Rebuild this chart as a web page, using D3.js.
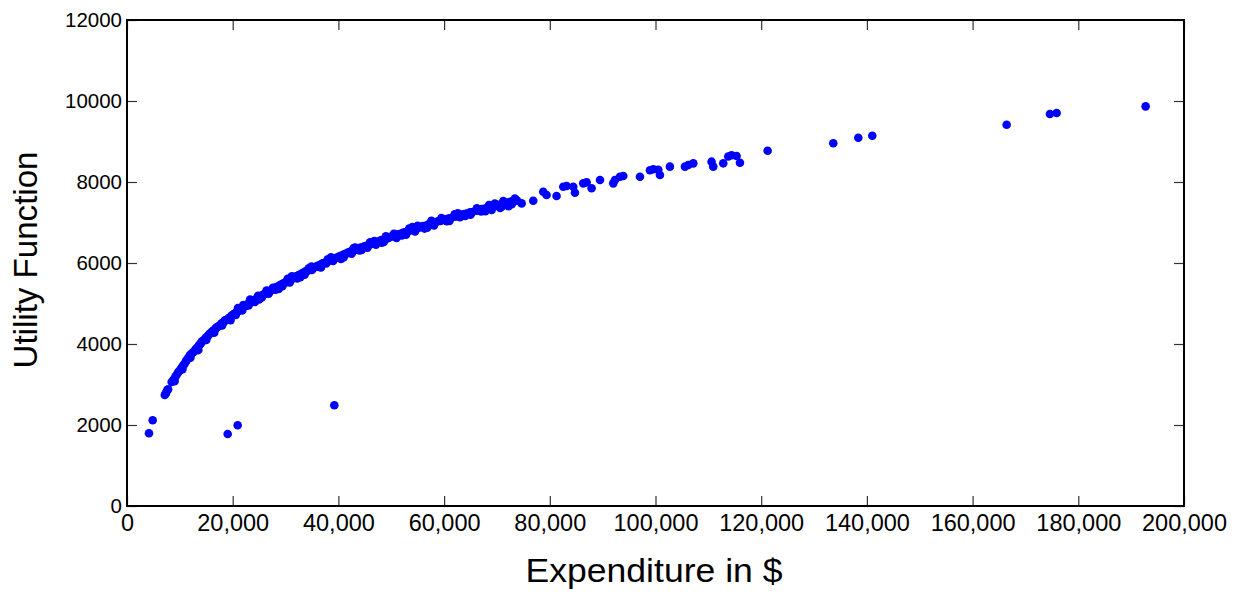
<!DOCTYPE html>
<html>
<head>
<meta charset="utf-8">
<script src="https://cdn.jsdelivr.net/npm/d3@7"></script>
<style>
  html, body { margin: 0; padding: 0; background: #fff; }
  svg { display: block; }
  text { font-family: "Liberation Sans", Arial, Helvetica, sans-serif; fill: #000; }
</style>
</head>
<body>
<svg id="chart" width="1244" height="594"></svg>
<script>
// ---- Data ----
const xTicks = [0, 20000, 40000, 60000, 80000, 100000, 120000, 140000, 160000, 180000, 200000];
const yTicks = [0, 2000, 4000, 6000, 8000, 10000, 12000];
const xLabel = "Expenditure in $";
const yLabel = "Utility Function";

const expenditure = [
  4160, 4860, 19050, 20940, 39230,
  7150, 7300, 7420, 7600, 7780, 8450, 8700, 8950, 9200, 9500, 9700, 9950,
  10200, 10450, 10700, 10900, 11150, 11300, 11500, 11750, 11900, 12100, 12300, 12550, 12800, 13000, 13200, 13400, 13600, 13800, 14000, 14150, 14400, 14600, 14850, 15100,
  15300, 15500, 15700, 15900, 16100, 16350, 16600, 16800, 17000, 17300, 17500, 17800, 18000, 18300, 18500, 18700, 19000, 19300, 19500, 19800, 20000,
  20200, 20500, 20700, 20900, 21200, 21400, 21700, 21900, 22200, 22400, 22700, 22900, 23100, 23400, 23600, 23900, 24100, 24400, 24600, 24900, 25200, 25400, 25700, 25900, 26200, 26500, 26700, 27000, 27300, 27500, 27800, 28000, 28300, 28500, 28800, 29100, 29300, 29600, 29900,
  30200, 30500, 30700, 31000, 31300, 31600, 31800, 32100, 32400, 32600, 32900, 33200, 33500, 33700, 34000, 34300, 34600, 34800, 35100, 35400, 35700, 35900, 36200, 36500, 36800, 37000, 37300, 37600, 37900, 38200, 38500, 38800, 39100, 39400, 39700, 40000,
  20600, 21800, 23000, 24200, 25500, 26800, 28100, 29400, 30800, 32200, 33600, 35000, 36400, 37700, 39000, 22000, 24800, 27600, 31200, 34400, 38000,
  40300, 40600, 40900, 41200, 41500, 41800, 42100, 42400, 42700, 43000, 43300, 43600, 43900, 44200, 44600, 44900, 45200, 45600, 45900, 46300, 46600, 47000, 47300, 47700, 48000, 48400, 48800, 49100, 49500, 49900,
  41000, 42500, 44000, 45500, 47100, 48600, 43200, 46000, 49000,
  50300, 50700, 51100, 51500, 51900, 52300, 52700, 53100, 53500, 53900, 54300, 54700, 55200, 55600, 56000, 56500, 57000, 57400, 57900, 58300, 58800, 59300, 59800,
  51000, 52800, 54500, 56300, 58100, 55000, 53400, 59500,
  60300, 60800, 61300, 61800, 62300, 62800, 63300, 63800, 64300, 64900, 65400, 66000, 66500, 67100, 67600, 68200, 68800, 69300, 69900, 70400, 71000, 71500, 72000, 72500, 73000, 73400, 73800,
  61000, 63000, 65000, 67000, 69000, 70600, 72200, 71200, 68500, 62000,
  9000, 10500, 12000, 13500, 15000, 16500, 18000, 19600, 21000, 23300, 25000, 26400, 28700, 30400, 32800, 34900, 36700, 38600, 40500, 42900, 44400, 46800, 48200, 50500, 52000, 54000, 56800, 57600, 60500, 62600, 64000, 66200, 67800, 69600, 70900, 72800,
  74670, 76870, 78760, 79390, 81280, 82550, 83180, 84440, 84760, 86330, 86960, 87910, 89500, 92010, 92330, 93270, 93900, 97060, 98950, 99580, 100530, 100840, 102730, 105570, 106200, 107150, 110610, 110930, 112820, 113770, 114400, 115340, 115980, 121220,
  133640, 138370, 141020, 166440, 174630, 175900, 192740
];

const utility = [
  1795, 2116, 1778, 1992, 2486,
  2740, 2770, 2800, 2860, 2880, 3060, 3100, 3140, 3200, 3260, 3310, 3340,
  3390, 3440, 3480, 3510, 3570, 3600, 3640, 3670, 3720, 3740, 3770, 3800, 3830, 3870, 3900, 3910, 3960, 3990, 4020, 4060, 4080, 4100, 4150, 4170,
  4200, 4230, 4260, 4270, 4310, 4330, 4350, 4390, 4410, 4440, 4450, 4500, 4520, 4540, 4580, 4590, 4610, 4640, 4660, 4700, 4710,
  4740, 4760, 4790, 4800, 4830, 4850, 4870, 4900, 4930, 4940, 4960, 4990, 5000, 5030, 5050, 5070, 5080, 5110, 5120, 5150, 5160, 5190, 5200, 5230, 5250, 5260, 5290, 5300, 5330, 5340, 5370, 5390, 5400, 5420, 5440, 5460, 5470, 5500, 5510,
  5540, 5550, 5580, 5590, 5620, 5630, 5660, 5670, 5690, 5710, 5720, 5750, 5760, 5790, 5800, 5820, 5830, 5860, 5870, 5890, 5900, 5920, 5940, 5950, 5970, 5990, 6000, 6020, 6030, 6060, 6070, 6090, 6100, 6120, 6130, 6150,
  4720, 4830, 4950, 5040, 5150, 5240, 5340, 5430, 5520, 5620, 5710, 5830, 5900, 5990, 6050, 4960, 5190, 5390, 5670, 5870, 6090,
  6170, 6180, 6200, 6220, 6230, 6260, 6270, 6290, 6290, 6320, 6330, 6350, 6360, 6380, 6390, 6410, 6420, 6440, 6460, 6470, 6490, 6500, 6520, 6530, 6560, 6570, 6590, 6600, 6620, 6650,
  6140, 6230, 6310, 6380, 6450, 6520, 6380, 6510, 6660,
  6660, 6670, 6700, 6710, 6730, 6750, 6760, 6790, 6800, 6820, 6840, 6850, 6870, 6890, 6910, 6920, 6950, 6970, 6990, 7000, 7030, 7040, 7060,
  6620, 6700, 6780, 6850, 6930, 6920, 6850, 7110,
  7080, 7100, 7110, 7140, 7150, 7180, 7190, 7210, 7220, 7250, 7260, 7290, 7300, 7330, 7340, 7370, 7380, 7400, 7420, 7440, 7450, 7480, 7490, 7510, 7530, 7590, 7540,
  7040, 7130, 7190, 7270, 7310, 7360, 7400, 7530, 7430, 7200,
  3080, 3380, 3660, 3850, 4100, 4280, 4460, 4590, 4890, 5100, 5100, 5320, 5360, 5610, 5650, 5910, 5890, 6140, 6100, 6370, 6320, 6540, 6500, 6720, 6680, 6890, 6870, 7040, 7030, 7230, 7160, 7350, 7280, 7470, 7390, 7450,
  7472, 7538, 7760, 7680, 7654, 7884, 7900, 7884, 7736, 7967, 7990, 7844, 8049, 7967, 8050, 8130, 8148, 8131, 8290, 8313, 8300, 8173, 8379, 8379, 8420, 8460, 8502, 8379, 8461, 8630, 8660, 8642, 8477, 8773,
  8955, 9094, 9143, 9415, 9678, 9703, 9868
];

// ---- Layout ----
const margin = { left: 127, top: 20 };
const pw = 1184 - margin.left;
const ph = 506 - margin.top;

const svg = d3.select("#chart");
const g = svg.append("g").attr("transform", `translate(${margin.left},${margin.top})`);

const xScale = d3.scaleLinear().domain([0, 200000]).range([0, pw]);
const yScale = d3.scaleLinear().domain([0, 12000]).range([ph, 0]);

// points
const pts = expenditure.map((v, i) => ({ x: v, y: utility[i] }));
g.append("g").selectAll("circle").data(pts).enter().append("circle")
  .attr("cx", d => xScale(d.x)).attr("cy", d => yScale(d.y))
  .attr("r", 4.3).attr("fill", "#0000ff");

// axes (ticks inward)
const fmtX = d3.format(",");
const axBottom = g.append("g").attr("transform", `translate(0,${ph})`)
  .call(d3.axisBottom(xScale).tickValues(xTicks).tickFormat(fmtX).tickSizeInner(-10).tickSizeOuter(0).tickPadding(8));
const axLeft = g.append("g")
  .call(d3.axisLeft(yScale).tickValues(yTicks).tickFormat(d3.format("d")).tickSizeInner(-10).tickSizeOuter(0).tickPadding(5));
const axTop = g.append("g")
  .call(d3.axisTop(xScale).tickValues(xTicks).tickFormat("").tickSizeInner(-10).tickSizeOuter(0));
const axRight = g.append("g").attr("transform", `translate(${pw},0)`)
  .call(d3.axisRight(yScale).tickValues(yTicks).tickFormat("").tickSizeInner(-10).tickSizeOuter(0));

[axBottom, axLeft, axTop, axRight].forEach(a => {
  a.select(".domain").remove();
  a.selectAll(".tick line").attr("stroke", "#333").attr("stroke-width", 1.2);
});

axBottom.selectAll(".tick text")
  .attr("font-size", 23.5)
  .attr("font-family", "'Liberation Sans', Arial, sans-serif")
  .attr("fill", "#000");
axLeft.selectAll(".tick text")
  .attr("font-size", 20.5)
  .attr("font-family", "'Liberation Sans', Arial, sans-serif")
  .attr("fill", "#000");

// frame
g.append("rect").attr("x", 0).attr("y", 0).attr("width", pw).attr("height", ph)
  .attr("fill", "none").attr("stroke", "#000").attr("stroke-width", 2);

// axis titles
svg.append("text")
  .attr("x", 654).attr("y", 582)
  .attr("text-anchor", "middle")
  .attr("font-size", 34)
  .attr("textLength", 257).attr("lengthAdjust", "spacingAndGlyphs")
  .text(xLabel);

svg.append("text")
  .attr("transform", `translate(37,260) rotate(-90)`)
  .attr("text-anchor", "middle")
  .attr("font-size", 34)
  .attr("textLength", 217).attr("lengthAdjust", "spacingAndGlyphs")
  .text(yLabel);
</script>
</body>
</html>
